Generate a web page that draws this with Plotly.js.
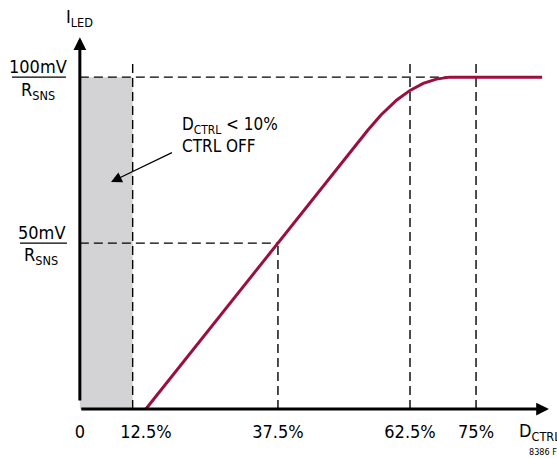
<!DOCTYPE html>
<html>
<head>
<meta charset="utf-8">
<script src="https://cdn.plot.ly/plotly-3.0.1.min.js"></script>
<style>html,body{margin:0;padding:0;background:#fff;}#chart{width:557px;height:458px;}</style>
</head>
<body>
<div id="chart"></div>
<script>
// ---- data ----
const dutyTicks = [0, 12.5, 37.5, 62.5, 75];
const dutyTickText = ['0', '12.5%', '37.5%', '62.5%', '75%'];
const ctrlOffDuty = 10;                       // grey "CTRL OFF" region upper bound (%)
const curveDuty = [12.5, 54.5, 57, 60, 62.5, 65, 67.5, 70, 87.5];
const curveLed  = [0, 84, 88.6, 93.1, 96, 98.1, 99.4, 100, 100]; // % of 100mV/RSNS
const levelValues = [50, 100];
const levelText = ['50mV', '100mV'];
const guideDuty = [10, 37.5, 62.5, 75];

const FONT = "'Liberation Sans Narrow', 'Arial Narrow', 'DejaVu Sans Condensed', sans-serif";
const RED = '#9c0f3c';
const dash = '9px,5px';

const shapes = [];
// grey region
shapes.push({type:'rect', layer:'below', xref:'x', yref:'y', x0:0, x1:ctrlOffDuty, y0:0, y1:levelValues[1],
  fillcolor:'#d3d3d5', line:{width:0}});
// horizontal guides
shapes.push({type:'line', layer:'below', xref:'x', yref:'y', x0:0, x1:guideDuty[1], y0:levelValues[0], y1:levelValues[0],
  line:{color:'#000', width:1.4, dash:dash}});
shapes.push({type:'line', layer:'below', xref:'x', yref:'y', x0:0, x1:curveDuty[curveDuty.length-1], y0:levelValues[1], y1:levelValues[1],
  line:{color:'#000', width:1.4, dash:dash}});
// vertical guides
guideDuty.forEach(function(d){
  const top = (d === guideDuty[1]) ? levelValues[0] : 104.5;
  shapes.push({type:'line', layer:'below', xref:'x', yref:'y', x0:d, x1:d, y0:0, y1:top,
    line:{color:'#000', width:1.4, dash:dash}});
});
// fraction bars for y labels (outside plot area -> paper x)
shapes.push({type:'line', xref:'paper', yref:'y', x0:-0.107, x1:0.004, y0:levelValues[1], y1:levelValues[1], line:{color:'#000', width:1.2}});
shapes.push({type:'line', xref:'paper', yref:'y', x0:-0.0905, x1:0.006, y0:levelValues[0], y1:levelValues[0], line:{color:'#000', width:1.2}});

const tf = {family:FONT, size:18, color:'#000'};
const cf = {family:FONT, size:17, color:'#000'};
const annotations = [
  // axes with arrowheads
  {xref:'x', yref:'y', axref:'x', ayref:'y', x:88.8, y:0, ax:-0.3, ay:0, text:' ', showarrow:true,
   arrowhead:2, arrowsize:0.85, arrowwidth:3, arrowcolor:'#000'},
  {xref:'x', yref:'y', axref:'x', ayref:'y', x:0, y:112, ax:0, ay:-0.45, text:' ', showarrow:true,
   arrowhead:2, arrowsize:0.85, arrowwidth:3, arrowcolor:'#000'},
  // axis titles
  {xref:'paper', yref:'paper', x:0.0309, y:1.0308, text:'I<sub>LED</sub>', showarrow:false, font:tf, xanchor:'center', yanchor:'middle'},
  {xref:'paper', yref:'paper', x:0.932, y:-0.0334, text:'D<sub>CTRL</sub>', showarrow:false, font:tf, xanchor:'left', yanchor:'middle'},
  {xref:'paper', yref:'paper', x:0.9527, y:-0.0848, text:'8386 F01', showarrow:false, font:{family:FONT, size:9, color:'#000'}, xanchor:'left', yanchor:'middle'},
  // y level labels
  {xref:'paper', yref:'paper', x:-0.0535, y:0.905, text:levelText[1], showarrow:false, font:tf, xanchor:'center', yanchor:'middle'},
  {xref:'paper', yref:'paper', x:-0.0535, y:0.8432, text:'R<sub>SNS</sub>', showarrow:false, font:tf, xanchor:'center', yanchor:'middle'},
  {xref:'paper', yref:'paper', x:-0.0473, y:0.4807, text:levelText[0], showarrow:false, font:tf, xanchor:'center', yanchor:'middle'},
  {xref:'paper', yref:'paper', x:-0.0473, y:0.419, text:'R<sub>SNS</sub>', showarrow:false, font:tf, xanchor:'center', yanchor:'middle'},
  // callout
  {xref:'x', yref:'y', x:18.9, y:85.3, text:'D<sub>CTRL</sub> &lt; 10%', showarrow:false, font:cf, xanchor:'left', yanchor:'middle'},
  {xref:'x', yref:'y', x:18.9, y:79.2, text:'CTRL OFF', showarrow:false, font:cf, xanchor:'left', yanchor:'middle'},
  {xref:'x', yref:'y', axref:'x', ayref:'y', x:5.9, y:68.4, ax:18.0, ay:77.7, text:' ', showarrow:true,
   arrowhead:2, arrowsize:1.8, arrowwidth:1.2, arrowcolor:'#000'}
];

const trace = {x:curveDuty, y:curveLed, type:'scatter', mode:'lines', line:{color:RED, width:3}, hoverinfo:'skip', cliponaxis:false};

const layout = {
  width:557, height:458,
  margin:{l:64, r:7, t:30, b:39},
  paper_bgcolor:'#fff', plot_bgcolor:'#fff',
  showlegend:false,
  xaxis:{range:[-3, 89], showgrid:false, zeroline:false, showline:false, ticks:'',
    tickmode:'array', tickvals:dutyTicks, ticktext:dutyTickText, tickfont:tf, fixedrange:true},
  yaxis:{range:[-3, 114.2], showgrid:false, zeroline:false, showline:false, showticklabels:false, ticks:'', fixedrange:true},
  shapes:shapes,
  annotations:annotations
};

Plotly.newPlot('chart', [trace], layout, {displayModeBar:false, staticPlot:true});
</script>
</body>
</html>
